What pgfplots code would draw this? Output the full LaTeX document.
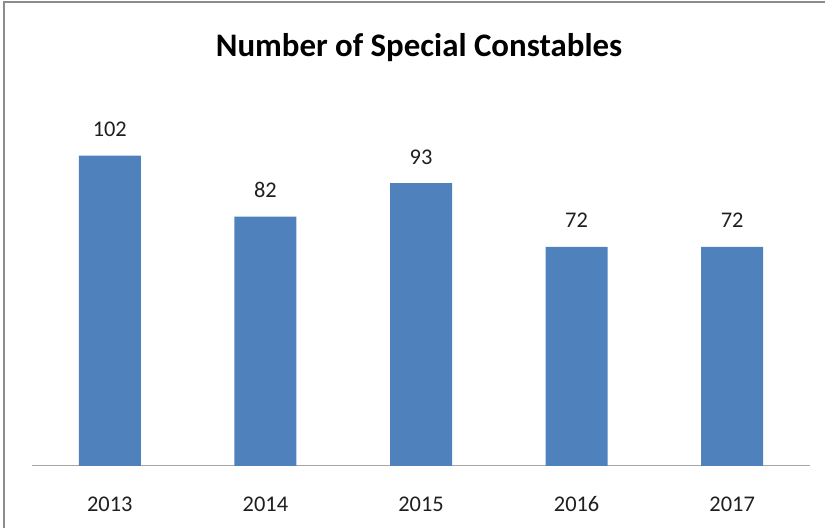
\documentclass[border=0pt]{standalone}
\usepackage{pgfplots}
\pgfplotsset{compat=1.18}
\usepackage{fontspec}
\setmainfont{Carlito}
\definecolor{barblue}{HTML}{4F81BD}
\definecolor{framegray}{HTML}{8C8C8C}
\begin{document}
\begin{tikzpicture}[x=1bp,y=1bp]
\path[use as bounding box] (0,0) rectangle (825,528);
\draw[framegray,line width=1.5bp] (4,-5) -- (4,526) -- (830,526);
\node[font=\fontsize{33}{38}\selectfont\bfseries, anchor=base, inner sep=0pt] at (419,471) {Number of Special Constables};
\begin{axis}[
  at={(32bp,62bp)}, anchor=south west,
  scale only axis, width=778bp, height=365bp,
  xmin=-0.5, xmax=4.5, ymin=0, ymax=120,
  axis x line=bottom, axis y line=none,
  axis line style={draw=gray!70, line width=1bp, -},
  xtick=data, xticklabels={2013,2014,2015,2016,2017},
  xtick style={draw=none},
  ticklabel style={font=\fontsize{22.5}{26}\selectfont, text=black!88},
  xticklabel style={anchor=base, inner sep=0pt, yshift=-41bp},
  /pgf/number format/assume math mode=true,
  ybar, bar width=62bp,
  nodes near coords,
  every node near coord/.append style={font=\fontsize{22.5}{26}\selectfont, text=black!88, anchor=base, inner sep=0pt, yshift=19bp},
  clip=false,
]
\addplot[fill=barblue, draw=none] coordinates {(0,102) (1,82) (2,93) (3,72) (4,72)};
\end{axis}
\end{tikzpicture}
\end{document}
